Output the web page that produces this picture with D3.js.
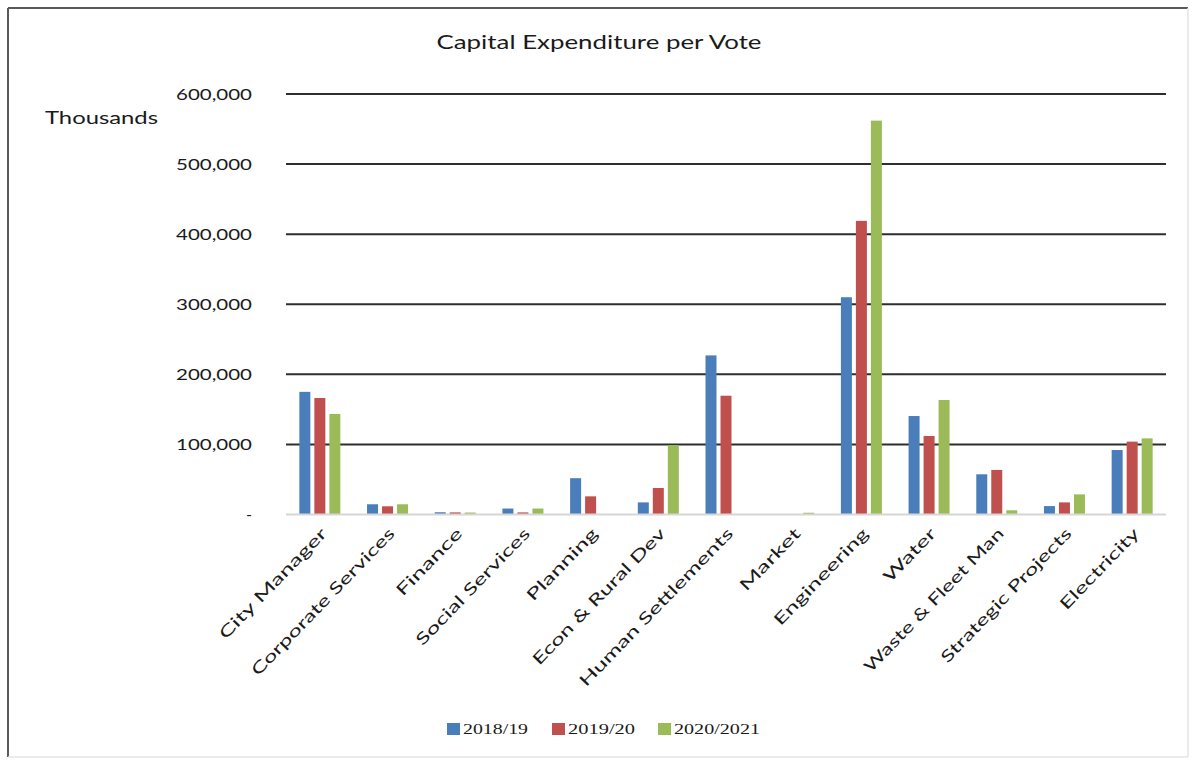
<!DOCTYPE html>
<html>
<head>
<meta charset="utf-8">
<script src="https://cdn.jsdelivr.net/npm/d3@7/dist/d3.min.js"></script>
<style>
  html, body { margin: 0; padding: 0; background: #ffffff; }
  svg { display: block; }
  text { font-family: Lato, "Open Sans", sans-serif; fill: #1a1a1a; }
</style>
</head>
<body>
<svg id="chart" width="1192" height="760"></svg>
<script>
// ---------- data ----------
const categories = ["City Manager", "Corporate Services", "Finance", "Social Services", "Planning",
  "Econ & Rural Dev", "Human Settlements", "Market", "Engineering", "Water",
  "Waste & Fleet Man", "Strategic Projects", "Electricity"];
const seriesNames = ["2018/19", "2019/20", "2020/2021"];
const values2018 = [175000, 14600, 3200, 8500, 51800, 17300, 227000, 0, 310000, 140500, 57400, 12000, 92000];
const values2019 = [166200, 11700, 3000, 3000, 25900, 37800, 169500, 0, 419000, 112000, 63600, 17300, 104000];
const values2020 = [143400, 14600, 2800, 8500, 0, 99000, 0, 2500, 562000, 163400, 6000, 28700, 108600];
const yTicks = [0, 100000, 200000, 300000, 400000, 500000, 600000];
const colors = ["#4a7ebb", "#c0504d", "#9bbb59"];
const seriesValues = [values2018, values2019, values2020];
const xLabelLengths = [147, 198, 87, 156, 94, 183, 213, 80, 128, 68, 193, 180, 106];
const legendLengths = [65, 67, 86];

// ---------- layout ----------
const svg = d3.select("#chart");
const plotLeft = 286, plotRight = 1166, plotTop = 94, plotBottom = 514.5;

// frame
svg.append("line").attr("x1", 8).attr("y1", 8).attr("x2", 1188).attr("y2", 8)
  .attr("stroke", "#5a5a5a").attr("stroke-width", 2);
svg.append("line").attr("x1", 8).attr("y1", 8).attr("x2", 8).attr("y2", 757)
  .attr("stroke", "#5a5a5a").attr("stroke-width", 2);
svg.append("line").attr("x1", 1188).attr("y1", 8).attr("x2", 1188).attr("y2", 757)
  .attr("stroke", "#e4e4e4").attr("stroke-width", 1.5);
svg.append("line").attr("x1", 8).attr("y1", 757).attr("x2", 1188).attr("y2", 757)
  .attr("stroke", "#e4e4e4").attr("stroke-width", 1.5);

const x = d3.scaleBand().domain(categories).range([plotLeft, plotRight]).padding(0);
const x1 = d3.scaleBand().domain(seriesNames).range([-20.5, 20.5]).paddingInner(0.267).paddingOuter(0);
const y = d3.scaleLinear().domain([0, 600000]).range([plotBottom, plotTop]);

// gridlines
svg.append("g").selectAll("line").data(yTicks.filter(d => d > 0)).join("line")
  .attr("x1", plotLeft).attr("x2", plotRight)
  .attr("y1", d => y(d)).attr("y2", d => y(d))
  .attr("stroke", "#2e2e2e").attr("stroke-width", 2);

// y-axis labels
const fmt = d3.format(",");
svg.append("g").selectAll("text").data(yTicks).join("text")
  .attr("x", 252).attr("y", d => y(d)).attr("dy", "0.36em")
  .attr("text-anchor", "end")
  .attr("font-size", 16)
  .attr("textLength", d => d === 0 ? null : 76)
  .attr("lengthAdjust", "spacingAndGlyphs")
  .text(d => d === 0 ? "-" : fmt(d));

// bars
const groups = svg.append("g").selectAll("g").data(seriesNames).join("g")
  .attr("fill", (d, i) => colors[i]);
groups.selectAll("rect")
  .data((s, si) => categories.map((c, ci) => ({ c, s, v: seriesValues[si][ci] })))
  .join("rect")
  .attr("x", d => x(d.c) + x.bandwidth() / 2 + x1(d.s))
  .attr("width", x1.bandwidth())
  .attr("y", d => y(d.v))
  .attr("height", d => y(0) - y(d.v));

// baseline
svg.append("line").attr("x1", plotLeft).attr("x2", plotRight)
  .attr("y1", y(0)).attr("y2", y(0))
  .attr("stroke", "#d6d6d6").attr("stroke-width", 2);

// x labels
svg.append("g").selectAll("text").data(categories).join("text")
  .attr("transform", d => `translate(${x(d) + x.bandwidth() / 2 + 4},${plotBottom + 16}) rotate(-46)`)
  .attr("text-anchor", "end")
  .attr("dy", "0.35em")
  .attr("font-size", 16)
  .attr("textLength", (d, i) => xLabelLengths[i])
  .attr("lengthAdjust", "spacingAndGlyphs")
  .text(d => d);

// title
svg.append("text").attr("x", 599).attr("y", 49)
  .attr("text-anchor", "middle").attr("font-size", 19)
  .attr("textLength", 325).attr("lengthAdjust", "spacingAndGlyphs")
  .text("Capital Expenditure per Vote");

// axis unit label
svg.append("text").attr("x", 45).attr("y", 124)
  .attr("font-size", 18)
  .attr("textLength", 113).attr("lengthAdjust", "spacingAndGlyphs")
  .text("Thousands");

// legend
const legendX = [447, 552, 658];
const lg = svg.append("g").selectAll("g").data(seriesNames).join("g")
  .attr("transform", (d, i) => `translate(${legendX[i]},723)`);
lg.append("rect").attr("width", 13).attr("height", 12).attr("fill", (d, i) => colors[i]);
lg.append("text").attr("x", 16).attr("y", 11)
  .style("font-family", "'Liberation Serif', 'DejaVu Serif', serif")
  .attr("font-size", 15)
  .attr("textLength", (d, i) => legendLengths[i]).attr("lengthAdjust", "spacingAndGlyphs")
  .text(d => d);
</script>
</body>
</html>
